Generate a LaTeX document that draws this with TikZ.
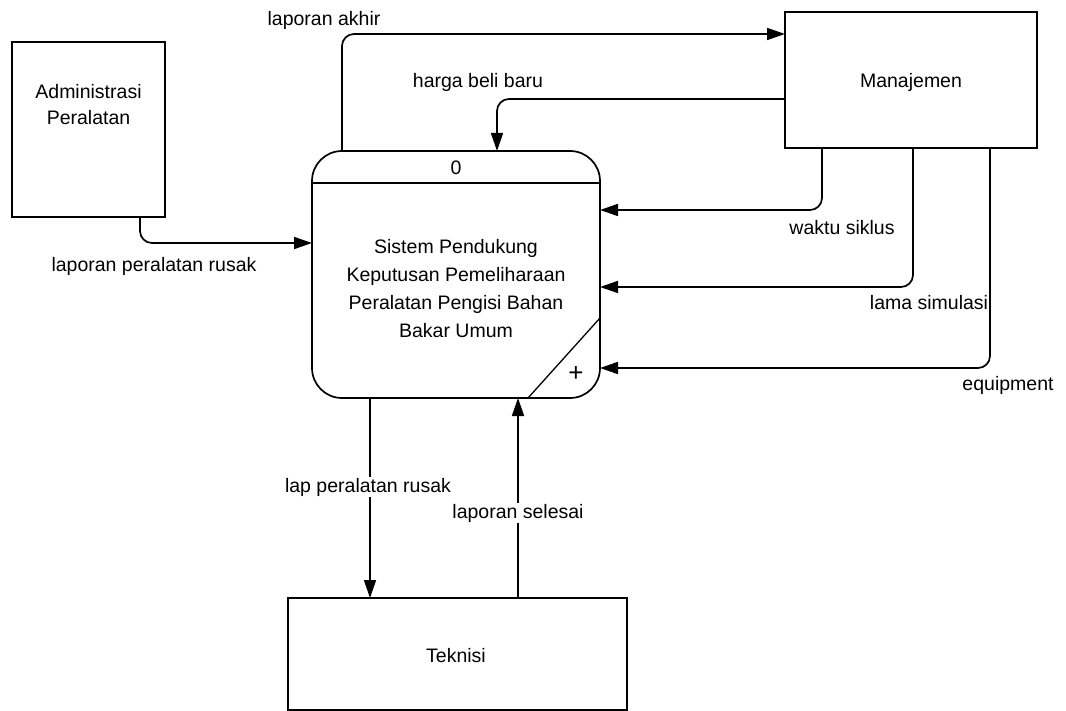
\documentclass[tikz,border=0pt]{standalone}
\usepackage{fontspec}
\setmainfont{Liberation Sans}
\usetikzlibrary{arrows.meta}
\begin{document}
\begin{tikzpicture}[x=1pt,y=-1pt,
  box/.style={draw, line width=1.7pt, inner sep=0pt, outer sep=0pt},
  flow/.style={line width=1.7pt, rounded corners=12pt, -{Triangle[length=18pt,width=12pt]}},
  lbl/.style={font=\fontsize{19.5}{22}\selectfont, inner sep=1pt},
  lblw/.style={lbl, fill=white},
  txt/.style={font=\fontsize{19.5}{26}\selectfont, align=center}]
\useasboundingbox (0,0) rectangle (1066,711);
% entities
\node[box, minimum width=153pt, minimum height=175pt] (admin) at (88.5,129.5) {};
\node[txt] (admintxt) at (88.5,105) {Administrasi\\Peralatan};
\node[box, minimum width=252pt, minimum height=136pt] (man) at (911,80) {};
\node[txt] (mantxt) at (911,82) {Manajemen};
\node[box, minimum width=339pt, minimum height=112pt] (tek) at (457.5,654) {};
\node[txt] (tektxt) at (456,656) {Teknisi};
% process
\node[box, rounded corners=30pt, minimum width=288pt, minimum height=247pt] (proc) at (456,274.5) {};
\draw[line width=1.7pt] (312,183) -- (600,183);
\draw[line width=1.3pt] (600,318) -- (528,398);
\node[lbl] (pid) at (456,168) {0};
\node[font=\fontsize{26}{28}\selectfont, inner sep=0pt] (plus) at (576,374) {+};
\node[font=\fontsize{19.5}{27.7}\selectfont, align=center] (proctxt) at (456,288.5)
  {Sistem Pendukung\\Keputusan Pemeliharaan\\Peralatan Pengisi Bahan\\Bakar Umum};
% flows
\draw[flow] (342,0 |- proc.north) -- (342,34) -- (man.west |- 0,34);
\draw[flow] (man.west |- 0,99) -- (497,99) -- (497,0 |- proc.north);
\draw[flow] (140,0 |- admin.south) -- (140,243) -- (proc.west |- 0,243);
\draw[flow] (822,0 |- man.south) -- (822,210) -- (proc.east |- 0,210);
\draw[flow] (913,0 |- man.south) -- (913,287) -- (proc.east |- 0,287);
\draw[flow] (990,0 |- man.south) -- (990,368) -- (proc.east |- 0,368);
\draw[flow] (370,0 |- proc.south) -- (370,0 |- tek.north);
\draw[flow] (518,0 |- tek.north) -- (518,0 |- proc.south);
% labels
\node[lbl] (l1) at (324,20) {laporan akhir};
\node[lbl] (l2) at (478,82) {harga beli baru};
\node[lbl] (l3) at (154,266) {laporan peralatan rusak};
\node[lbl] (l4) at (842,228) {waktu siklus};
\node[lbl] (l5) at (929,303) {lama simulasi};
\node[lbl] (l6) at (1008,385) {equipment};
\node[lblw] (l7) at (368,487) {lap peralatan rusak};
\node[lblw] (l8) at (518,513) {laporan selesai};
\end{tikzpicture}
\end{document}
